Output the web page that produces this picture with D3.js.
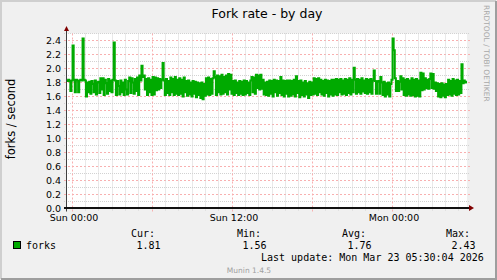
<!DOCTYPE html>
<html>
<head>
<meta charset="utf-8">
<script src="https://cdn.jsdelivr.net/npm/d3@7"></script>
<style>
  body { margin: 0; background: #f0f0f0; }
  svg { display: block; }
  text { font-family: "DejaVu Sans", sans-serif; }
  .mono { font-family: "DejaVu Sans Mono", monospace; white-space: pre; }
</style>
</head>
<body>
<div id="chart"></div>
<script>
//
// Munin style "Fork rate - by day" graph
//

const title = "Fork rate - by day";
const unitLabel = "forks / second";
const seriesName = "forks";
const watermark = "RRDTOOL / TOBI OETIKER";
const footer = "Munin 1.4.5";
const lastUpdate = "Last update: Mon Mar 23 05:30:04 2026";

// time span of the graph, one sample every 5 minutes
const startTime = Date.UTC(2026, 2, 21, 23, 37, 30);
const endTime = Date.UTC(2026, 2, 23, 5, 37, 30);
const stepSeconds = 300;

const yMax = 2.5;
const yLabelTicks = [0, 0.2, 0.4, 0.6, 0.8, 1.0, 1.2, 1.4, 1.6, 1.8, 2.0, 2.2, 2.4];

const statLabels = ["Cur:", "Min:", "Avg:", "Max:"];
const statValues = ["1.81", "1.56", "1.76", "2.43"];

// forks per second (20 samples per row)
const forkValues = [
    1.82, 1.84, 1.82, 1.68, 1.83, 2.33, 1.84, 1.66, 1.84, 1.83, 1.66, 1.83, 1.84, 1.83, 2.43, 1.84, 1.83, 1.60, 1.80, 1.66,
    1.81, 1.64, 1.82, 1.78, 1.66, 1.83, 1.63, 1.80, 1.81, 1.65, 1.86, 1.70, 1.86, 1.62, 1.84, 1.79, 1.64, 1.85, 1.68, 1.83,
    1.66, 1.84, 2.37, 1.83, 1.62, 1.82, 1.75, 1.63, 1.83, 1.66, 1.80, 1.62, 1.84, 1.70, 1.63, 1.82, 1.87, 1.65, 1.86, 1.80,
    1.64, 1.85, 1.68, 1.87, 1.62, 1.90, 1.83, 2.04, 1.88, 1.90, 1.70, 1.85, 1.62, 1.86, 1.66, 1.84, 1.62, 1.88, 1.63, 1.87,
    1.69, 1.86, 1.70, 1.85, 1.72, 1.84, 2.08, 1.83, 1.62, 1.85, 1.65, 1.82, 1.62, 1.87, 1.66, 1.85, 1.62, 1.88, 1.64, 1.84,
    1.62, 1.86, 1.64, 1.84, 1.60, 1.87, 1.66, 1.82, 1.61, 1.83, 1.63, 1.80, 1.60, 1.82, 1.64, 1.81, 1.59, 1.80, 1.62, 1.79,
    1.58, 1.80, 1.56, 1.78, 1.61, 1.86, 1.63, 1.87, 1.62, 1.85, 1.64, 1.86, 1.96, 1.88, 1.62, 1.90, 1.66, 1.89, 1.63, 1.91,
    1.64, 1.88, 1.66, 1.90, 1.63, 1.92, 1.70, 1.91, 1.64, 1.82, 1.62, 1.83, 1.65, 1.80, 1.62, 1.82, 1.64, 1.81, 1.62, 1.83,
    1.63, 1.82, 1.65, 1.80, 1.62, 1.83, 1.88, 1.66, 1.87, 1.64, 1.91, 1.72, 1.90, 1.70, 1.91, 1.71, 1.84, 1.63, 1.80, 1.62,
    1.81, 1.61, 1.83, 1.64, 1.82, 1.60, 1.84, 1.66, 1.83, 1.61, 1.82, 1.65, 1.88, 1.62, 1.83, 1.60, 1.82, 1.64, 1.83, 1.60,
    1.83, 1.61, 1.82, 1.63, 1.84, 1.60, 1.89, 1.65, 1.82, 1.59, 1.83, 1.62, 1.80, 1.60, 1.82, 1.63, 1.79, 1.58, 1.81, 1.62,
    1.80, 1.63, 1.86, 1.64, 1.85, 1.62, 1.86, 1.66, 1.84, 1.63, 1.82, 1.61, 1.84, 1.65, 1.83, 1.60, 1.82, 1.63, 1.84, 1.61,
    1.84, 1.63, 1.85, 1.62, 1.84, 1.66, 1.85, 1.63, 1.83, 1.64, 1.85, 1.62, 1.84, 1.65, 1.86, 1.63, 1.84, 1.66, 2.01, 1.84,
    1.64, 1.85, 1.66, 1.84, 1.64, 1.86, 1.67, 1.83, 1.65, 1.85, 1.64, 1.84, 1.66, 1.85, 1.64, 1.83, 1.97, 1.82, 1.64, 1.81,
    1.82, 1.64, 1.88, 1.80, 1.62, 1.81, 1.60, 1.79, 1.63, 1.80, 1.60, 1.78, 1.84, 2.43, 2.26, 1.86, 1.68, 1.82, 1.68, 1.81,
    1.89, 1.70, 1.86, 1.62, 1.84, 1.61, 1.85, 1.63, 1.83, 1.61, 1.86, 1.62, 1.84, 1.60, 1.85, 1.61, 1.83, 1.60, 1.94, 1.69,
    1.93, 1.70, 1.86, 1.72, 1.84, 1.71, 1.85, 1.93, 1.72, 1.92, 1.71, 1.80, 1.68, 1.79, 1.60, 1.78, 1.59, 1.79, 1.61, 1.77,
    1.59, 1.78, 1.62, 1.84, 1.63, 1.82, 1.61, 1.85, 1.64, 1.83, 1.62, 1.84, 1.63, 1.82, 1.65, 2.06, 1.79, 1.83, 1.80, 1.81
];

const width = 497;
const height = 280;
const plotLeft = 67;
const plotTop = 33.5;
const plotWidth = 400;
const plotHeight = 175;

const lineColor = "#00aa00";
const minorGridColor = "#d2d2d2";
const majorGridColor = "#f8b0b0";

function drawGraph(divName) {
    var svg = d3.select("#" + divName)
        .append("svg")
        .attr("width", width)
        .attr("height", height);

    // background + 3d frame
    svg.append("rect").attr("width", width).attr("height", height).attr("fill", "#f0f0f0");
    svg.append("path").attr("d", "M0,1H" + (width - 1) + "M1,0V" + (height - 1))
        .attr("stroke", "#cfcfcf").attr("stroke-width", 2);
    svg.append("path").attr("d", "M1," + (height - 1) + "H" + width + "M" + (width - 1) + ",1V" + height)
        .attr("stroke", "#9e9e9e").attr("stroke-width", 2);

    svg.append("rect")
        .attr("x", plotLeft).attr("y", plotTop)
        .attr("width", plotWidth).attr("height", plotHeight)
        .attr("fill", "#ffffff");

    var x = d3.scaleUtc().domain([startTime, endTime]).range([plotLeft, plotLeft + plotWidth]);
    var y = d3.scaleLinear().domain([0, yMax]).range([plotTop + plotHeight, plotTop]);

    // horizontal grid, minor every 0.1, major every 0.2
    var yGrid = d3.range(0, Math.round(yMax * 10) + 1).map(i => i / 10);
    svg.append("g")
        .selectAll("line")
        .data(yGrid)
        .join("line")
        .attr("x1", plotLeft - 3)
        .attr("x2", plotLeft + plotWidth + 3)
        .attr("y1", d => Math.floor(y(d)) + 0.5)
        .attr("y2", d => Math.floor(y(d)) + 0.5)
        .attr("stroke", (d, i) => i % 2 == 0 ? majorGridColor : minorGridColor)
        .attr("stroke-dasharray", (d, i) => i % 2 == 0 ? "2,2" : "1,1");

    // vertical grid, minor every hour, major every 6 hours
    var hours = d3.utcHour.range(startTime, endTime);
    svg.append("g")
        .selectAll("line")
        .data(hours)
        .join("line")
        .attr("x1", d => Math.floor(x(d)) + 0.5)
        .attr("x2", d => Math.floor(x(d)) + 0.5)
        .attr("y1", plotTop)
        .attr("y2", plotTop + plotHeight + 3)
        .attr("stroke", d => d.getUTCHours() % 6 == 0 ? majorGridColor : minorGridColor)
        .attr("stroke-dasharray", d => d.getUTCHours() % 6 == 0 ? "2,2" : "1,1");

    // data
    var points = forkValues.map((v, i) => ({ t: new Date(startTime + i * stepSeconds * 1000), v: v }));
    points.push({ t: new Date(endTime), v: forkValues[forkValues.length - 1] });

    var line = d3.line()
        .x(d => x(d.t))
        .y(d => y(d.v))
        .curve(d3.curveStepAfter);

    svg.append("path")
        .datum(points)
        .attr("fill", "none")
        .attr("stroke", lineColor)
        .attr("stroke-width", 2)
        .attr("d", line);

    // axes lines + arrows
    svg.append("line")
        .attr("x1", plotLeft - 0.5).attr("x2", plotLeft - 0.5)
        .attr("y1", plotTop + plotHeight + 3).attr("y2", plotTop - 3)
        .attr("stroke", "#404040");
    svg.append("line")
        .attr("x1", plotLeft - 3).attr("x2", plotLeft + plotWidth + 3)
        .attr("y1", y(0) - 0.5).attr("y2", y(0) - 0.5)
        .attr("stroke", "#101010").attr("stroke-width", 2);
    svg.append("path")
        .attr("d", "M" + (plotLeft - 3) + "," + (plotTop - 2.5) + "L" + (plotLeft + 2) + "," + (plotTop - 2.5) + "L" + (plotLeft - 0.5) + "," + (plotTop - 7.5) + "Z")
        .attr("fill", "#800000");
    svg.append("path")
        .attr("d", "M" + (plotLeft + plotWidth + 2) + "," + (y(0) - 3.5) + "L" + (plotLeft + plotWidth + 2) + "," + (y(0) + 2.5) + "L" + (plotLeft + plotWidth + 7) + "," + (y(0) - 0.5) + "Z")
        .attr("fill", "#800000");

    // y axis labels
    var yAxis = d3.axisLeft(y)
        .tickValues(yLabelTicks)
        .tickFormat(d3.format(".1f"))
        .tickSize(0)
        .tickPadding(0);
    var gy = svg.append("g")
        .attr("transform", "translate(61,0)")
        .call(yAxis);
    gy.select(".domain").remove();
    gy.selectAll("text")
        .attr("font-family", "DejaVu Sans")
        .attr("font-size", "9.5px")
        .attr("fill", "#000")
        .attr("dy", "0.36em");

    // x axis labels
    var xAxis = d3.axisBottom(x)
        .ticks(d3.utcHour.every(12))
        .tickFormat(d3.utcFormat("%a %H:%M"))
        .tickSize(0)
        .tickPadding(0);
    var gx = svg.append("g")
        .attr("transform", "translate(1.5,214)")
        .call(xAxis);
    gx.select(".domain").remove();
    gx.selectAll("text")
        .attr("font-family", "DejaVu Sans")
        .attr("font-size", "9.5px")
        .attr("fill", "#000");

    // titles
    svg.append("text")
        .attr("x", 267).attr("y", 17.5)
        .attr("text-anchor", "middle")
        .style("font-size", "12.5px")
        .text(title);

    svg.append("text")
        .attr("transform", "translate(14.5,119) rotate(-90)")
        .attr("text-anchor", "middle")
        .style("font-size", "11.5px")
        .text(unitLabel);

    svg.append("text")
        .attr("transform", "translate(484,5) rotate(90)")
        .style("font-size", "7.5px")
        .attr("fill", "#a8a8a8")
        .text(watermark);

    createLegend(svg);
}

function createLegend(svg) {
    var colX = [131, 237, 342, 446];

    svg.append("g")
        .selectAll("text")
        .data(statLabels)
        .join("text")
        .attr("class", "mono")
        .attr("x", (d, i) => colX[i])
        .attr("y", 236.5)
        .style("font-size", "10px")
        .text(d => d);

    svg.append("g")
        .selectAll("text")
        .data(statValues)
        .join("text")
        .attr("class", "mono")
        .attr("x", (d, i) => colX[i] + 5.5)
        .attr("y", 248.5)
        .style("font-size", "10px")
        .text(d => d);

    svg.append("rect")
        .attr("x", 13.5).attr("y", 241.5)
        .attr("width", 7).attr("height", 7)
        .attr("fill", lineColor)
        .attr("stroke", "#000");

    svg.append("text")
        .attr("class", "mono")
        .attr("x", 26).attr("y", 248.5)
        .style("font-size", "10px")
        .text(seriesName);

    svg.append("text")
        .attr("class", "mono")
        .attr("x", 261).attr("y", 260.5)
        .style("font-size", "10px")
        .text(lastUpdate);

    svg.append("text")
        .attr("x", 249).attr("y", 272.5)
        .attr("text-anchor", "middle")
        .style("font-size", "7.5px")
        .attr("fill", "#a0a0a0")
        .text(footer);
}

drawGraph("chart");
</script>
</body>
</html>
